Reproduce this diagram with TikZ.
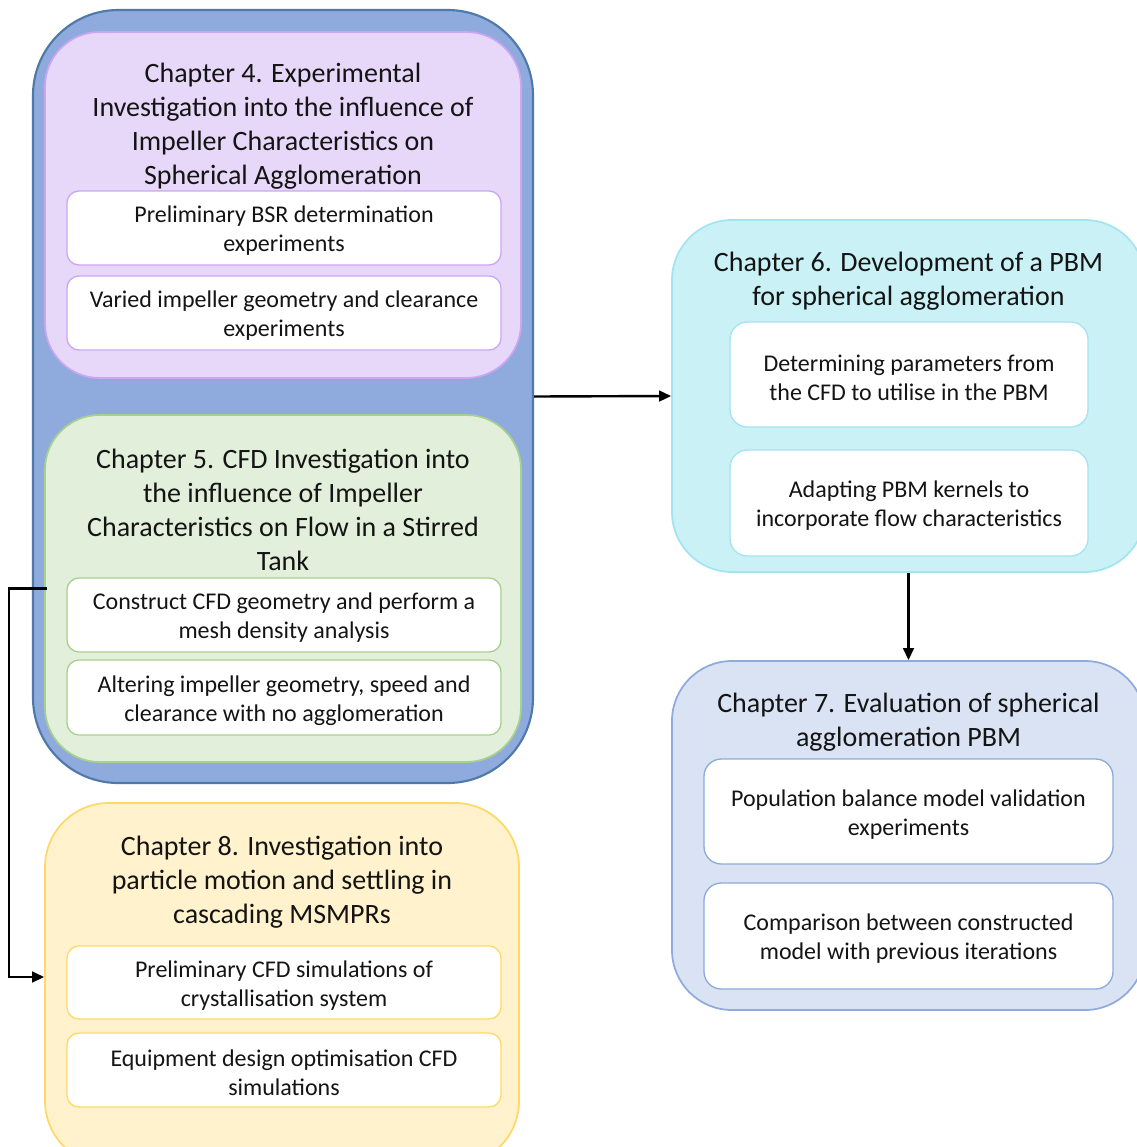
\documentclass[tikz,border=0pt]{standalone}
\usepackage{fontspec}
\setmainfont{Carlito}
\usetikzlibrary{arrows.meta}
\definecolor{outerfill}{HTML}{8FAADC}
\definecolor{outerdraw}{HTML}{4F79A9}
\definecolor{purpfill}{HTML}{E7D8F9}
\definecolor{purpdraw}{HTML}{CDA6F3}
\definecolor{greenfill}{HTML}{E2EFDA}
\definecolor{greendraw}{HTML}{A9D18E}
\definecolor{yelfill}{HTML}{FFF2CC}
\definecolor{yeldraw}{HTML}{FFD966}
\definecolor{cyanfill}{HTML}{C9F1F6}
\definecolor{cyandraw}{HTML}{A4E4F0}
\definecolor{bluefill}{HTML}{DAE3F3}
\definecolor{bluedraw}{HTML}{8FAADC}
\definecolor{txt}{HTML}{141414}
\newcommand\ttlfont{\fontsize{21pt}{25.5pt}\selectfont}
\newcommand\sbfont{\fontsize{18pt}{21.75pt}\selectfont}
\tikzset{
  chapbox/.style={draw, rounded corners=41pt, line width=1.3pt, inner sep=0pt},
  subbox/.style={draw, fill=white, rounded corners=9pt, line width=1pt, inner sep=0pt},
  rsubbox/.style={subbox, rounded corners=13pt},
  subtext/.style={align=center, font=\sbfont, text=txt, inner sep=0pt},
  titletext/.style={align=center, font=\ttlfont, text=txt, inner sep=0pt},
  arr/.style={-{Triangle[length=9pt,width=8pt]}, line width=1.8pt, black}
}
\begin{document}
\begin{tikzpicture}[x=0.75pt,y=-0.75pt]
\useasboundingbox (0,0) rectangle (1137,1147);
\clip (0,0) rectangle (1137,1147);
\fill[white] (0,0) rectangle (1137,1147);

% outer group
\node[chapbox, draw=outerdraw, fill=outerfill, line width=1.6pt, rounded corners=64pt,
      minimum width=375pt, minimum height=579.75pt] (outer) at (283,396.5) {};

% Chapter 4
\node[chapbox, draw=purpdraw, fill=purpfill, minimum width=357pt, minimum height=259.5pt] (ch4) at (283,205) {};
\node[titletext] (t4) at (283,126) {Chapter 4. Experimental\\Investigation into the influence of\\Impeller Characteristics on\\Spherical Agglomeration};
\node[subbox, draw=purpdraw, minimum width=325.5pt, minimum height=55.5pt] (s41) at (284,228) {};
\node[subtext] (s41t) at ([yshift=-2.2pt]s41.center) {Preliminary BSR determination\\experiments};
\node[subbox, draw=purpdraw, minimum width=325.5pt, minimum height=55.5pt] (s42) at (284,313) {};
\node[subtext] (s42t) at ([yshift=-2.2pt]s42.center) {Varied impeller geometry and clearance\\experiments};

% Chapter 5
\node[chapbox, draw=greendraw, fill=greenfill, minimum width=357pt, minimum height=260.25pt] (ch5) at (283,588.5) {};
\node[titletext] (t5) at (283,509.5) {Chapter 5. CFD Investigation into\\the influence of Impeller\\Characteristics on Flow in a Stirred\\Tank};
\node[subbox, draw=greendraw, minimum width=325.5pt, minimum height=55.5pt] (s51) at (284,615) {};
\node[subtext] (s51t) at ([yshift=-2.2pt]s51.center) {Construct CFD geometry and perform a\\mesh density analysis};
\node[subbox, draw=greendraw, minimum width=325.5pt, minimum height=56.25pt] (s52) at (284,697.5) {};
\node[subtext] (s52t) at ([yshift=-2.2pt]s52.center) {Altering impeller geometry, speed and\\clearance with no agglomeration};

% Chapter 8
\node[chapbox, draw=yeldraw, fill=yelfill, rounded corners=48pt, minimum width=355.5pt, minimum height=271.5pt] (ch8) at (282,984) {};
\node[titletext] (t8) at (282,882) {Chapter 8. Investigation into\\particle motion and settling in\\cascading MSMPRs};
\node[subbox, draw=yeldraw, minimum width=325.5pt, minimum height=54.75pt] (s81) at (284,982.5) {};
\node[subtext] (s81t) at ([yshift=-2.2pt]s81.center) {Preliminary CFD simulations of\\crystallisation system};
\node[subbox, draw=yeldraw, minimum width=325.5pt, minimum height=55.5pt] (s82) at (284,1070) {};
\node[subtext] (s82t) at ([yshift=-2.2pt]s82.center) {Equipment design optimisation CFD\\simulations};

% Chapter 6
\node[chapbox, draw=cyandraw, fill=cyanfill, rounded corners=45pt, minimum width=354.75pt, minimum height=264pt] (ch6) at (908.5,396) {};
\node[titletext] (t6) at (908.5,281) {Chapter 6. Development of a PBM\\for spherical agglomeration};
\node[rsubbox, draw=cyandraw, minimum width=268.5pt, minimum height=78.75pt] (s61) at (909,374.5) {};
\node[subtext] (s61t) at ([yshift=-2.2pt]s61.center) {Determining parameters from\\the CFD to utilise in the PBM};
\node[rsubbox, draw=cyandraw, minimum width=268.5pt, minimum height=79.5pt] (s62) at (909,503) {};
\node[subtext] (s62t) at ([yshift=-2.2pt]s62.center) {Adapting PBM kernels to\\incorporate flow characteristics};

% Chapter 7
\node[chapbox, draw=bluedraw, fill=bluefill, rounded corners=45pt, minimum width=354.75pt, minimum height=261.75pt] (ch7) at (908.5,835.5) {};
\node[titletext] (t7) at (908.5,722) {Chapter 7. Evaluation of spherical\\agglomeration PBM};
\node[rsubbox, draw=bluedraw, minimum width=306.75pt, minimum height=78.75pt] (s71) at (908.5,811.5) {};
\node[subtext] (s71t) at ([yshift=-2.2pt]s71.center) {Population balance model validation\\experiments};
\node[rsubbox, draw=bluedraw, minimum width=306.75pt, minimum height=79.5pt] (s72) at (908.5,936) {};
\node[subtext] (s72t) at ([yshift=-2.2pt]s72.center) {Comparison between constructed\\model with previous iterations};

% connectors
\draw[arr] (outer.east) -- (ch6.west);
\draw[arr] (ch6.south) -- (ch7.north);
\draw[arr] ([xshift=2pt]ch5.west) -- ++(-28.5pt,0) |- ([yshift=5.25pt]ch8.west);
\end{tikzpicture}
\end{document}
